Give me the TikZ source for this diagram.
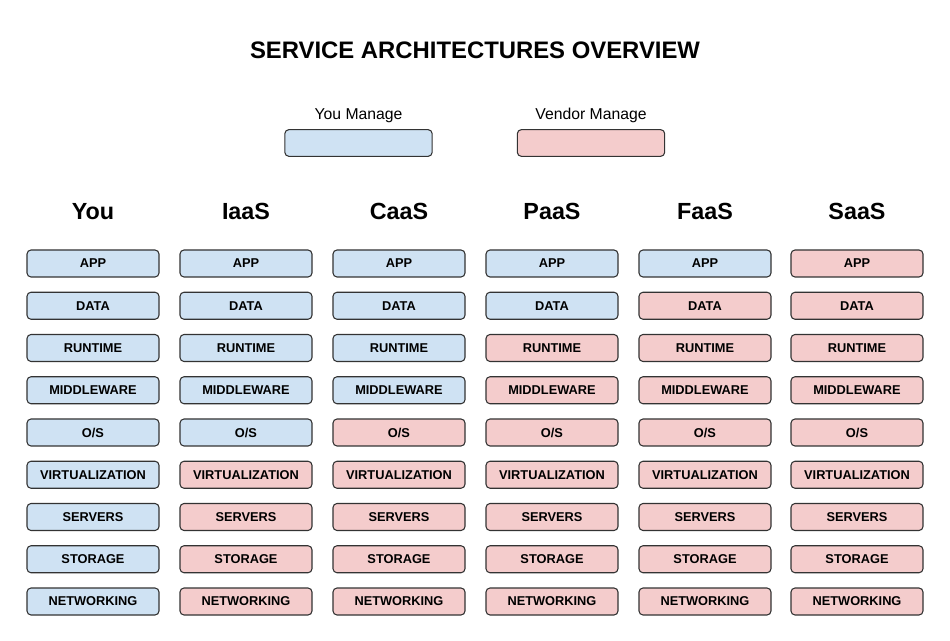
\documentclass[tikz,border=0pt]{standalone}
\usepackage{fontspec}
\setmainfont{Liberation Sans}
\definecolor{youc}{HTML}{CFE2F3}
\definecolor{venc}{HTML}{F4CCCC}
\definecolor{edgec}{HTML}{333333}
\begin{document}
\begin{tikzpicture}[x=0.75pt,y=-0.75pt,
  layer/.style={draw=edgec,line width=0.8pt,rounded corners=3pt,minimum width=99pt,minimum height=20.25pt,inner sep=0pt,font=\fontsize{9.6}{11}\selectfont\bfseries},
  you/.style={layer,fill=youc},
  ven/.style={layer,fill=venc},
  legendbox/.style={draw=edgec,line width=0.8pt,rounded corners=3pt,minimum width=110.5pt,minimum height=20pt,inner sep=0pt},
  colhead/.style={font=\fontsize{17.5}{20}\selectfont\bfseries},
  legendtext/.style={font=\fontsize{11.8}{14}\selectfont}]
\useasboundingbox (0,0) rectangle (950,641);
\node[font=\fontsize{17.9}{21}\selectfont\bfseries] (title) at (475,50) {SERVICE ARCHITECTURES OVERVIEW};
\node[legendtext] (lyou) at (358.5,115.5) {You Manage};
\node[legendbox,fill=youc] (lyoubox) at (358.5,143) {};
\node[legendtext] (lven) at (591,115.5) {Vendor Manage};
\node[legendbox,fill=venc] (lvenbox) at (591,143) {};
\def\rows{APP,DATA,RUNTIME,MIDDLEWARE,O/S,VIRTUALIZATION,SERVERS,STORAGE,NETWORKING}
\foreach \name/\cx/\nyou [count=\c] in {You/93/9,IaaS/246/5,CaaS/399/4,PaaS/552/2,FaaS/705/1,SaaS/857/0}{
  \node[colhead,text height=13pt] (h\c) at (\cx,211) {\name};
  \foreach \r [count=\i] in \rows {
    \pgfmathsetmacro{\yy}{263.5+(\i-1)*42.25}
    \ifnum\i>\nyou
      \node[ven] (b\c-\i) at (\cx,\yy) {\r};
    \else
      \node[you] (b\c-\i) at (\cx,\yy) {\r};
    \fi
  }
}
\end{tikzpicture}
\end{document}
